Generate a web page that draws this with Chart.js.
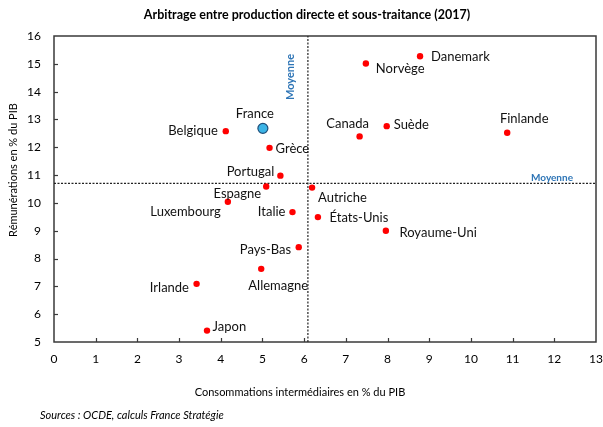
<!DOCTYPE html>
<html><head><meta charset="utf-8">
<script src="https://cdn.jsdelivr.net/npm/chart.js@4.4.1/dist/chart.umd.min.js"></script>
<style>html,body{margin:0;padding:0;background:#fff;}canvas{display:block;}</style>
</head><body>
<canvas id="c" width="603" height="427"></canvas>
<script>
// ---- data ----
const countries = ['Danemark','Norvège','Canada','Suède','Finlande','France','Belgique','Grèce','Portugal','Espagne','Autriche','Luxembourg','Italie','États-Unis','Royaume-Uni','Pays-Bas','Allemagne','Irlande','Japon'];
const consoInter = [8.78,7.48,7.33,7.98,10.87,5.01,4.12,5.17,5.43,5.09,6.19,4.17,5.72,6.33,7.96,5.87,4.97,3.42,3.67];
const remunerations = [15.27,15.01,12.39,12.76,12.52,12.68,12.58,11.98,10.98,10.59,10.55,10.04,9.67,9.49,9.00,8.41,7.63,7.09,5.41];
const highlighted = 'France';
const meanX = 6.09;
const meanY = 10.70;
const xRange = [0, 13];
const yRange = [5, 16];
const titleText = 'Arbitrage entre production directe et sous-traitance (2017)';
const xTitle = 'Consommations intermédiaires en % du PIB';
const yTitle = 'Rémunérations en % du PIB';
const sourceText = 'Sources : OCDE, calculs France Stratégie';
const meanLabel = 'Moyenne';

// ---- label placement (style only) ----
const labelPlacement = {
  'Danemark':[11,1,'left'],'Norvège':[10,5,'left'],'Canada':[-12,-13,'center'],'Suède':[7,-1.5,'left'],
  'Finlande':[17,-14,'center'],'France':[-8,-15,'center'],'Belgique':[-8,-0.5,'right'],'Grèce':[6,1,'left'],
  'Portugal':[-6,-4,'right'],'Espagne':[-5,7,'right'],'Autriche':[6,10,'left'],'Luxembourg':[-7,10,'right'],
  'Italie':[-7,0,'right'],'États-Unis':[11.6,1,'left'],'Royaume-Uni':[13.6,1.6,'left'],'Pays-Bas':[-7.6,3,'right'],
  'Allemagne':[17,17,'center'],'Irlande':[-7.6,4,'right'],'Japon':[5.6,-4,'left']
};

const FONT = 'Lato, "Open Sans", sans-serif';
const others = [], hi = [], otherNames = [], hiNames = [];
countries.forEach((c,i)=>{
  const p = {x: consoInter[i], y: remunerations[i]};
  if (c === highlighted) { hi.push(p); hiNames.push(c); } else { others.push(p); otherNames.push(c); }
});

const overlay = {
  id:'overlay',
  beforeDatasetsDraw(chart){
    const {ctx, chartArea:a} = chart;
    ctx.save();
    ctx.strokeStyle = '#3a3a3a'; ctx.lineWidth = 1.5;
    ctx.strokeRect(a.left, a.top, a.right-a.left, a.bottom-a.top);
    const xs = chart.scales.x, ys = chart.scales.y;
    ctx.lineWidth = 1.2;
    for (let v = xRange[0]+1; v < xRange[1]; v++) {
      const px = Math.round(xs.getPixelForValue(v))+0.5;
      ctx.beginPath(); ctx.moveTo(px, a.bottom); ctx.lineTo(px, a.bottom-4); ctx.stroke();
    }
    for (let v = yRange[0]+1; v < yRange[1]; v++) {
      const py = Math.round(ys.getPixelForValue(v))+0.5;
      ctx.beginPath(); ctx.moveTo(a.left, py); ctx.lineTo(a.left+4, py); ctx.stroke();
    }
    ctx.restore();
  },
  afterDraw(chart){
    const {ctx, chartArea:a} = chart;
    const xs = chart.scales.x, ys = chart.scales.y;
    ctx.save();
    ctx.fillStyle = '#000';
    ctx.textBaseline = 'middle';
    ctx.font = 'bold 12.5px ' + FONT; ctx.textAlign = 'center';
    ctx.fillText(titleText, 307, 15);
    ctx.font = '11px ' + FONT;
    ctx.fillText(xTitle, 300, 392);
    ctx.save(); ctx.translate(13, 170); ctx.rotate(-Math.PI/2);
    ctx.fillText(yTitle, 0, 0); ctx.restore();
    ctx.font = 'italic 11px ' + FONT; ctx.textAlign = 'left';
    ctx.fillText(sourceText, 40, 415);
    // mean labels
    ctx.fillStyle = '#2E75B6'; ctx.font = 'bold 10px ' + FONT; ctx.textAlign = 'center';
    ctx.fillText(meanLabel, 552, ys.getPixelForValue(meanY) - 6);
    ctx.font = 'bold 11px ' + FONT;
    ctx.save(); ctx.translate(xs.getPixelForValue(meanX) - 17, 77); ctx.rotate(-Math.PI/2);
    ctx.fillText(meanLabel, 0, 0); ctx.restore();
    // point labels
    ctx.fillStyle = '#111'; ctx.font = '13px ' + FONT;
    [[0, otherNames],[1, hiNames]].forEach(([di, names])=>{
      const meta = chart.getDatasetMeta(di);
      meta.data.forEach((el, j)=>{
        const pl = labelPlacement[names[j]];
        ctx.textAlign = pl[2];
        ctx.fillText(names[j], el.x + pl[0], el.y + pl[1]);
      });
    });
    ctx.restore();
  }
};

new Chart(document.getElementById('c'), {
  type:'scatter',
  data:{ datasets:[
    {data: others, pointRadius:3.2, pointBackgroundColor:'#FF0000', pointBorderWidth:0, pointBorderColor:'#FF0000'},
    {data: hi, pointRadius:5, pointBackgroundColor:'#3CB4E6', pointBorderColor:'#1F4E79', pointBorderWidth:1.2},
    {type:'line', data:[{x:meanX,y:yRange[0]},{x:meanX,y:yRange[1]}], borderColor:'#222', borderWidth:1.2, borderDash:[2,1.5], pointRadius:0, fill:false},
    {type:'line', data:[{x:xRange[0],y:meanY},{x:xRange[1],y:meanY}], borderColor:'#222', borderWidth:1.2, borderDash:[2,1.5], pointRadius:0, fill:false}
  ]},
  options:{
    responsive:false, animation:false, devicePixelRatio:1,
    layout:{padding:{top:36,right:7,left:0,bottom:0}},
    plugins:{legend:{display:false}, tooltip:{enabled:false}, title:{display:false}},
    scales:{
      x:{type:'linear', min:xRange[0], max:xRange[1],
         ticks:{stepSize:1, padding:10, color:'#000', font:{family:FONT, size:12}, maxRotation:0, autoSkip:false},
         grid:{display:false, drawTicks:false}, border:{display:false},
         afterFit(s){ s.height = 85; s.paddingLeft = 0; s.paddingRight = 0; }},
      y:{type:'linear', min:yRange[0], max:yRange[1],
         ticks:{stepSize:1, padding:13, color:'#000', font:{family:FONT, size:12}},
         grid:{display:false, drawTicks:false}, border:{display:false},
         afterFit(s){ s.width = 54; s.paddingTop = 0; s.paddingBottom = 0; }}
    }
  },
  plugins:[overlay]
});
</script>
</body></html>
